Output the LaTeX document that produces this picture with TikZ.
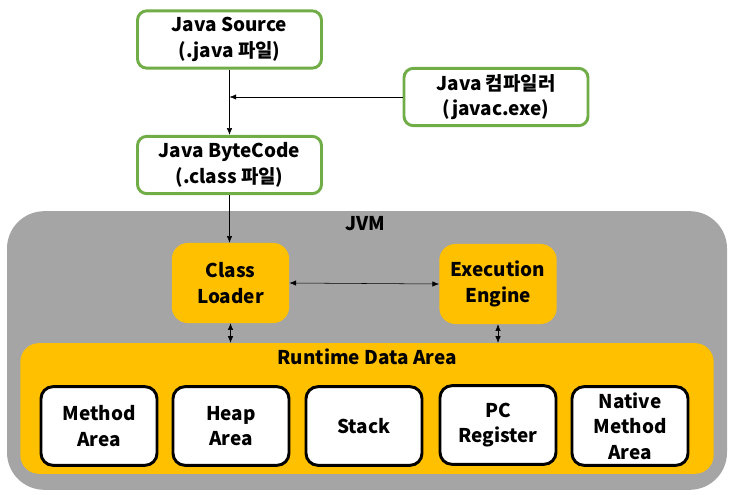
\documentclass[tikz,border=0pt]{standalone}
\usepackage{fontspec}
\setmainfont{Noto Sans CJK KR}
\usetikzlibrary{arrows.meta}
\definecolor{boxgreen}{HTML}{70AD47}
\definecolor{boxyellow}{HTML}{FFC000}
\definecolor{jvmgray}{HTML}{A5A5A5}
\tikzset{
  >={Latex[length=5pt, width=4pt]},
  filebox/.style={draw=boxgreen, line width=2.2pt, fill=white, rounded corners=7pt,
    minimum width=138pt, minimum height=43pt, align=center, inner sep=0pt},
  unitbox/.style={fill=boxyellow, rounded corners=12pt, minimum width=88pt,
    minimum height=60pt, align=center, inner sep=0pt},
  areabox/.style={draw=black, line width=2.2pt, fill=white, rounded corners=9pt,
    minimum width=87pt, minimum height=59pt, align=center, inner sep=0pt},
  every node/.style={font=\bfseries\fontsize{14.2}{19}\selectfont}
}
\begin{document}
\begin{tikzpicture}[x=0.75pt, y=-0.75pt]
  \useasboundingbox (0, 0) rectangle (731, 495);
  % JVM
  \node [fill=jvmgray, rounded corners=28pt, minimum width=540pt, minimum height=209pt] (jvm) at (367, 350.5) {};
  \node at (365, 224) (jvmlabel) {JVM};
  \node [fill=boxyellow, rounded corners=14pt, minimum width=520pt, minimum height=98pt] (rda) at (367, 408.5) {};
  \node at (367, 357) (rdalabel) {Runtime Data Area};
  % files
  \node [filebox] (source) at (229.5, 39.5) {Java Source\\(.java 파일)};
  \node [filebox] (compiler) at (496, 97) {Java 컴파일러\\(javac.exe)};
  \node [filebox] (bytecode) at (229.5, 165) {Java ByteCode\\(.class 파일)};
  % units
  \node [unitbox] (loader) at (230.5, 283) {Class\\Loader};
  \node [unitbox] (engine) at (498, 284) {Execution\\Engine};
  % areas
  \node [areabox] (method) at (99, 426) {Method\\Area};
  \node [areabox] (heap) at (231, 426) {Heap\\Area};
  \node [areabox] (stack) at (364, 426) {Stack};
  \node [areabox] (pc) at (498, 425) {PC\\Register};
  \node [areabox] (native) at (630, 426) {Native\\Method\\Area};
  % arrows
  \draw [->] (source.south) -- (bytecode.north);
  \draw [->] (compiler.west) -- (compiler.west -| source.south);
  \draw [->] (bytecode.south) -- (bytecode.south |- loader.north);
  \draw [<->] (loader.east) -- (engine.west);
  \draw [<->] (loader.south) -- (loader.south |- rda.north);
  \draw [<->] (engine.south) -- (engine.south |- rda.north);
\end{tikzpicture}
\end{document}
